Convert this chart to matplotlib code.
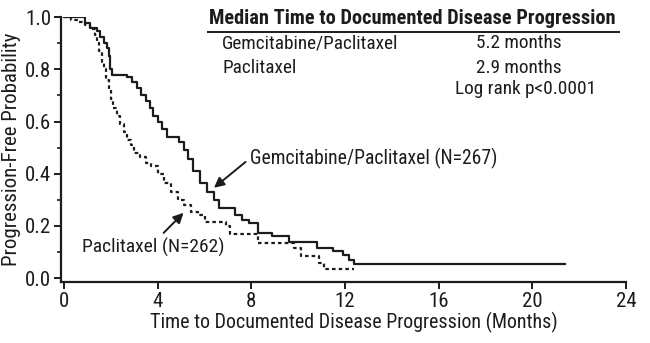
import numpy as np
import matplotlib.pyplot as plt
from matplotlib import font_manager
from matplotlib.ticker import MultipleLocator

# narrow sans if one is installed
installed = {f.name for f in font_manager.fontManager.ttflist}
for fam in ['Liberation Sans Narrow', 'Roboto Condensed', 'Open Sans Condensed',
            'DejaVu Sans Condensed']:
    if fam in installed:
        break
else:
    fam = 'Liberation Sans'
plt.rcParams['font.family'] = [fam, 'DejaVu Sans']

# Kaplan-Meier step points (months, progression-free probability)
gem_t = [0, 0.9, 1.1, 1.4, 1.55, 1.7, 1.85, 1.9, 1.97, 2.05, 2.7, 2.9, 3.1, 3.3, 3.5,
         3.65, 3.8, 4.0, 4.2, 4.4, 4.9, 5.1, 5.3, 5.5, 5.8, 6.1, 6.4, 6.6, 7.3, 7.6,
         7.9, 8.3, 8.9, 9.6, 10.8, 11.5, 11.9, 12.15, 12.4, 21.4]
gem_s = [1.0, 0.977, 0.96, 0.945, 0.925, 0.90, 0.88, 0.85, 0.80, 0.78, 0.77, 0.75, 0.73,
         0.70, 0.68, 0.65, 0.62, 0.60, 0.57, 0.54, 0.52, 0.49, 0.455, 0.41, 0.365, 0.33,
         0.30, 0.27, 0.24, 0.223, 0.21, 0.173, 0.16, 0.138, 0.115, 0.104, 0.088, 0.07,
         0.054, 0.054]

pac_t = [0, 0.3, 0.6, 0.9, 1.1, 1.3, 1.4, 1.5, 1.6, 1.7, 1.8, 1.9, 2.0, 2.1, 2.25, 2.4,
         2.55, 2.7, 2.85, 3.0, 3.25, 3.5, 3.7, 4.0, 4.25, 4.55, 4.85, 5.1, 5.4, 5.7,
         6.0, 6.9, 7.1, 8.3, 9.8, 10.1, 10.9, 11.1, 12.4]
pac_s = [1.0, 0.99, 0.98, 0.97, 0.955, 0.93, 0.90, 0.87, 0.83, 0.80, 0.76, 0.72, 0.685,
         0.65, 0.62, 0.59, 0.56, 0.53, 0.51, 0.48, 0.465, 0.44, 0.43, 0.40, 0.365, 0.33,
         0.30, 0.28, 0.255, 0.24, 0.215, 0.20, 0.17, 0.135, 0.115, 0.085, 0.058, 0.035,
         0.035]

arms = ['Gemcitabine/Paclitaxel', 'Paclitaxel']
n_pts = [267, 262]
medians = ['5.2 months', '2.9 months']
pval = 'Log rank p<0.0001'

ink = '#1c1c1c'
fig = plt.figure(figsize=(6.5, 3.43), dpi=100)
ax = fig.add_axes([0.094, 0.178, 0.869, 0.772])

ax.plot(gem_t, gem_s, drawstyle='steps-post', color=ink, lw=1.6)
ax.plot(pac_t, pac_s, drawstyle='steps-post', color=ink, lw=1.6, ls=(0, (1.6, 1.4)))

ax.set_xlim(-0.13, 24)
ax.set_ylim(-0.015, 1.0)
ax.set_xticks(np.arange(0, 25, 4))
ax.set_yticks(np.arange(0, 1.01, 0.2))
ax.set_yticklabels(['%.1f' % v for v in np.arange(0, 1.01, 0.2)])
ax.yaxis.set_minor_locator(MultipleLocator(0.1))
for s in ['top', 'right']:
    ax.spines[s].set_visible(False)
for s in ['left', 'bottom']:
    ax.spines[s].set_linewidth(1.6)
    ax.spines[s].set_color(ink)
ax.tick_params(which='major', length=5, width=1.4, colors=ink, labelsize=15, pad=2)
ax.tick_params(which='minor', length=3, width=1.2, colors=ink)
ax.set_xlabel('Time to Documented Disease Progression (Months)', fontsize=14.4,
              color=ink, labelpad=1)
ax.xaxis.set_label_coords(0.518, -0.115)
ax.set_ylabel('Progression-Free Probability', fontsize=15, color=ink, labelpad=3)

# curve labels with arrows
arrow = dict(arrowstyle='-|>', color=ink, lw=1.4, shrinkA=0, shrinkB=0, mutation_scale=15)
ax.text(7.95, 0.46, '%s (N=%d)' % (arms[0], n_pts[0]), fontsize=14.1, color=ink,
        va='center', ha='left')
ax.annotate('', xy=(6.4, 0.346), xytext=(7.75, 0.445), arrowprops=arrow)
ax.text(0.77, 0.118, '%s (N=%d)' % (arms[1], n_pts[1]), fontsize=14, color=ink,
        va='center', ha='left')
ax.annotate('', xy=(5.1, 0.25), xytext=(4.25, 0.173), arrowprops=arrow)

# median summary table
fig.text(0.322, 0.947, 'Median Time to Documented Disease Progression', fontsize=14.7,
         fontweight='bold', color=ink, va='center', ha='left')
fig.add_artist(plt.Line2D([0.32, 0.953], [0.906, 0.906], color=ink, lw=1.4))
for i, (arm, med) in enumerate(zip(arms, medians)):
    y = 0.874 - i * 0.073
    fig.text(0.342, y, arm, fontsize=13.9, color=ink, va='center', ha='left')
    fig.text(0.732, y, med, fontsize=13.9, color=ink, va='center', ha='left')
fig.text(0.70, 0.74, pval, fontsize=13.9, color=ink, va='center', ha='left')

fig.savefig('out.png', dpi=100)
